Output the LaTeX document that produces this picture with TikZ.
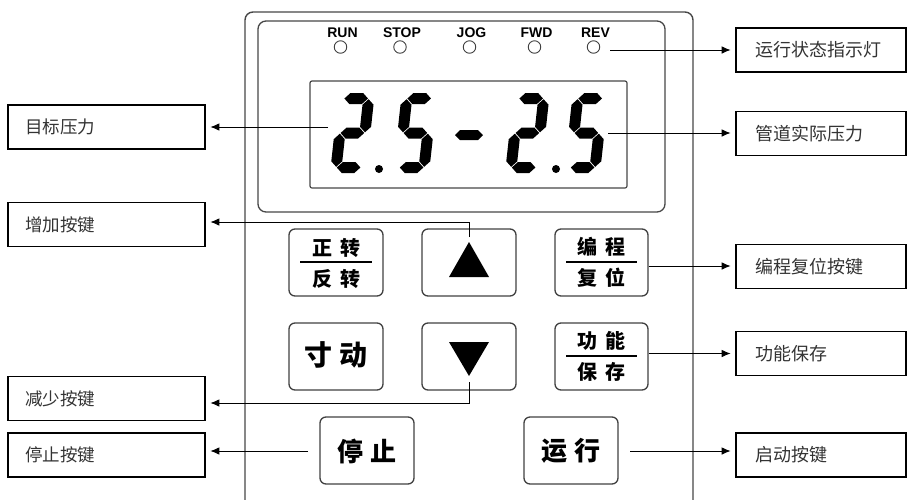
\documentclass[tikz,border=0pt]{standalone}
\usepackage{fontspec}
\setmainfont{Liberation Sans}
\newfontfamily\cjk{Noto Sans CJK SC}
\newfontfamily\ledfont{Liberation Sans}
\usetikzlibrary{arrows.meta}
% 7-segment helpers (local frame: origin bottom-left, y downward)
\newcommand{\dhs}[3]{\fill (#1+0.7,#3) -- (#1+6.2,#3-5.5) -- (#2-6.2,#3-5.5) -- (#2-0.7,#3) -- (#2-6.2,#3+5.5) -- (#1+6.2,#3+5.5) -- cycle;}
\newcommand{\dvs}[3]{\fill (#1,#2+0.7) -- (#1+5.5,#2+6.2) -- (#1+5.5,#3-6.2) -- (#1,#3-0.7) -- (#1-5.5,#3-6.2) -- (#1-5.5,#2+6.2) -- cycle;}
\newcommand{\digittwo}{\dhs{5.5}{30.5}{-74.5}\dvs{30.5}{-74.5}{-40}\dhs{5.5}{30.5}{-40}\dvs{5.5}{-40}{-5.5}\dhs{5.5}{30.5}{-5.5}}
\newcommand{\digitfive}{\dhs{5.5}{30.5}{-74.5}\dvs{5.5}{-74.5}{-40}\dhs{5.5}{30.5}{-40}\dvs{30.5}{-40}{-5.5}\dhs{5.5}{30.5}{-5.5}}
\tikzset{
 panel/.style={draw=black!72, line width=1.4pt, rounded corners=8pt},
 key/.style={draw=black!75, line width=1.3pt, rounded corners=6pt, minimum width=94pt, minimum height=67pt, inner sep=0pt},
 lbl/.style={draw=black, line width=1.6pt, minimum height=44pt, align=left, text width=163pt, inner xsep=17pt, inner ysep=0pt, font=\cjk\fontsize{17.5}{20}\selectfont, text=black!80},
 rlbl/.style={lbl, text width=132pt, inner xsep=19pt, font=\cjk\fontsize{18}{20}\selectfont},
 conn/.style={draw=black, line width=0.9pt, -{Latex[length=9pt,width=7.5pt]}, shorten >=4.5pt},
 keytxt/.style={font=\cjk\bfseries\fontsize{20}{22}\selectfont, inner sep=0pt},
 bigkeytxt/.style={font=\cjk\bfseries\fontsize{26}{28}\selectfont, inner sep=0pt},
 bar/.style={line width=2.2pt, draw=black},
 led/.style={circle, draw=black!75, line width=0.9pt, minimum size=12.5pt, inner sep=0pt},
 ledlbl/.style={font=\ledfont\bfseries\fontsize{14}{16}\selectfont, inner sep=0pt},
}
\begin{document}
\begin{tikzpicture}[x=1pt,y=-1pt]
\useasboundingbox (0,0) rectangle (908,499);
\clip (0,0) rectangle (908,499);
% panel
\draw[panel] (245,12) rectangle (693,512);
\draw[panel, line width=1.3pt] (258,21) rectangle (665,212);
\draw[draw=black!72, line width=1.2pt, rounded corners=2pt] (310,81) rectangle (627,188);
% LEDs
\foreach \nm/\x/\t in {run/340.5/RUN, stop/400/STOP, jog/469.5/JOG, fwd/534.5/FWD, rev/593.5/REV}{
  \node[led] (\nm) at (\x,47) {};
  \node[ledlbl] (\nm t) at (\x+2,33) {\t};
}
% digits
\begin{scope}[shift={(330,173)}, xslant=0.11]\digittwo\end{scope}
\begin{scope}[shift={(393,173)}, xslant=0.11]\digitfive\end{scope}
\begin{scope}[shift={(505,173)}, xslant=0.11]\digittwo\end{scope}
\begin{scope}[shift={(564,173)}, xslant=0.11]\digitfive\end{scope}
\fill (379,169) circle (4pt);
\fill (556,169) circle (4pt);
\fill (455,135) -- (460,130) -- (478,130) -- (483,135) -- (478,140) -- (460,140) -- cycle;
% keys
\node[key] (k1) at (336,262.5) {};
\node[key] (k2) at (469,262.5) {};
\node[key, minimum width=93pt] (k3) at (601.5,262.5) {};
\node[key] (k4) at (336,356.5) {};
\node[key] (k5) at (469,356.5) {};
\node[key, minimum width=93pt] (k6) at (601.5,356.5) {};
\node[key] (k7) at (367,450.5) {};
\node[key] (k8) at (571,450.5) {};
\node[keytxt] (k1a) at (336,247.5) {正\hspace{8pt}转};
\node[keytxt] (k1b) at (336,279) {反\hspace{8pt}转};
\draw[bar] (300,262) -- (372,262);
\node[keytxt] (k3a) at (601.5,246.5) {编\hspace{8pt}程};
\node[keytxt] (k3b) at (601.5,278) {复\hspace{8pt}位};
\draw[bar] (566,262) -- (637,262);
\node[keytxt] (k6a) at (601.5,340.5) {功\hspace{8pt}能};
\node[keytxt] (k6b) at (601.5,372) {保\hspace{8pt}存};
\draw[bar] (566,356) -- (637,356);
\node[bigkeytxt, font=\cjk\bfseries\fontsize{28}{30}\selectfont] (k4a) at (336,355) {寸\hspace{7pt}动};
\node[bigkeytxt] (k7a) at (367,451) {停\hspace{7pt}止};
\node[bigkeytxt] (k8a) at (571,451) {运\hspace{7pt}行};
\fill (449,277) -- (489,277) -- (469,242) -- cycle;
\fill (449,342) -- (489,342) -- (469,376) -- cycle;
% label boxes
\node[lbl] (lb1) at (106.5,127) {目标压力};
\node[lbl] (lb2) at (106.5,224.5) {增加按键};
\node[lbl] (lb3) at (106.5,398.5) {减少按键};
\node[lbl] (lb4) at (106.5,455) {停止按键};
\node[rlbl] (rb1) at (821,50) {运行状态指示灯};
\node[rlbl] (rb2) at (821,133.5) {管道实际压力};
\node[rlbl] (rb3) at (821,266.5) {编程复位按键};
\node[rlbl] (rb4) at (821,353.5) {功能保存};
\node[rlbl] (rb5) at (821,455) {启动按键};
% connectors
\coordinate (dL) at (328,127);
\draw[conn] (dL) -- (dL -| lb1.east);
\coordinate (upc) at (469,237);
\coordinate (upt) at (469,222);
\draw[conn] (upc) -- (upt) -- (upt -| lb2.east);
\coordinate (dnc) at (469,382);
\coordinate (dnt) at (469,403);
\draw[conn] (dnc) -- (dnt) -- (dnt -| lb3.east);
\coordinate (stc) at (308,451);
\draw[conn] (stc) -- (stc -| lb4.east);
\coordinate (revc) at (610,50);
\draw[conn] (revc) -- (revc -| rb1.west);
\coordinate (dR) at (608,133);
\draw[conn] (dR) -- (dR -| rb2.west);
\coordinate (k3c) at ([yshift=-3.5pt]k3.east);
\draw[conn] (k3c) -- (k3c -| rb3.west);
\coordinate (k6c) at ([yshift=3pt]k6.east);
\draw[conn] (k6c) -- (k6c -| rb4.west);
\coordinate (runc) at (630,451);
\draw[conn] (runc) -- (runc -| rb5.west);
\end{tikzpicture}
\end{document}
